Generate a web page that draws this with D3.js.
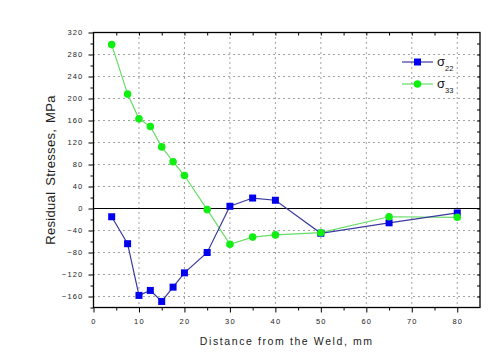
<!DOCTYPE html>
<html><head><meta charset="utf-8">
<script src="https://cdn.jsdelivr.net/npm/d3@7"></script>
<style>body{margin:0;background:#fff}svg{display:block}text{font-family:Arial,"Liberation Sans",sans-serif}</style>
</head><body><svg id="c" width="500" height="359"></svg>
<script>
const xValues = [4, 7.5, 10, 12.5, 15, 17.5, 20, 25, 30, 35, 40, 50, 65, 80];
const sigma22 = [-15, -64, -158, -149, -169, -143, -117, -80, 4, 19, 15, -45, -26, -8];
const sigma33 = [298, 208, 163, 149, 112, 85, 60, -2, -65, -52, -48, -44, -15, -16];
const xTicks = [0, 10, 20, 30, 40, 50, 60, 70, 80];
const yTicks = [-160, -120, -80, -40, 0, 40, 80, 120, 160, 200, 240, 280, 320];
const seriesNames = ["22", "33"];

const svg = d3.select("#c");
const L = 93.5, R = 480, T = 32.5, B = 307.5;
const x = d3.scaleLinear().domain([0, 85]).range([L, R]);
const y = d3.scaleLinear().domain([-180, 320]).range([B, T]);

// grid
const g = svg.append("g");
g.selectAll(".gx").data(xTicks.filter(d => d > 0)).enter().append("line")
  .attr("x1", d => x(d)).attr("x2", d => x(d)).attr("y1", T).attr("y2", B)
  .attr("stroke", "#444").attr("stroke-width", 1).attr("stroke-dasharray", "1,4");
g.selectAll(".gy").data(yTicks.filter(d => d !== 0 && d !== 320)).enter().append("line")
  .attr("x1", L).attr("x2", R).attr("y1", d => y(d)).attr("y2", d => y(d))
  .attr("stroke", "#444").attr("stroke-width", 1).attr("stroke-dasharray", "1,4");

// zero line
svg.append("line").attr("x1", L).attr("x2", R).attr("y1", y(0)).attr("y2", y(0))
  .attr("stroke", "#000").attr("stroke-width", 1.2);

// axes
const fmt = d3.format("d");
const ax = svg.append("g").attr("transform", `translate(0,${B})`)
  .call(d3.axisBottom(x).tickValues(xTicks).tickSize(5).tickPadding(6).tickFormat(fmt));
const axm = svg.append("g").attr("transform", `translate(0,${B})`)
  .call(d3.axisBottom(x).tickValues(d3.range(5, 85, 10)).tickSize(3).tickFormat(""));
const axt = svg.append("g").attr("transform", `translate(0,${T})`)
  .call(d3.axisBottom(x).tickValues(d3.range(5, 85, 5)).tickSize(3).tickFormat(""));
const ay = svg.append("g").attr("transform", `translate(${L},0)`)
  .call(d3.axisLeft(y).tickValues(yTicks).tickSize(5).tickPadding(5).tickFormat(fmt));
const aym = svg.append("g").attr("transform", `translate(${L},0)`)
  .call(d3.axisLeft(y).tickValues(d3.range(-180, 320, 40)).tickSize(3).tickFormat(""));
const ayr = svg.append("g").attr("transform", `translate(${R},0)`)
  .call(d3.axisLeft(y).tickValues(d3.range(-160, 320, 20)).tickSize(3).tickFormat(""));
[ax, axm, axt, ay, aym, ayr].forEach(a => {
  a.select(".domain").remove();
  a.selectAll("line").attr("stroke", "#000");
  a.selectAll("text").attr("font-size", 7.5).attr("letter-spacing", "1.2px").attr("fill", "#222");
});
// frame
svg.append("rect").attr("x", L).attr("y", T).attr("width", R - L).attr("height", B - T)
  .attr("fill", "none").attr("stroke", "#000").attr("stroke-width", 1.3);

// series
const line = vals => d3.line().x((d, i) => x(xValues[i])).y(d => y(d))(vals);
svg.append("path").attr("d", line(sigma33)).attr("fill", "none").attr("stroke", "#66dd66").attr("stroke-width", 1.2);
svg.append("path").attr("d", line(sigma22)).attr("fill", "none").attr("stroke", "#3a3aa0").attr("stroke-width", 1.2);
svg.selectAll(".sq").data(sigma22).enter().append("rect")
  .attr("x", (d, i) => x(xValues[i]) - 3.5).attr("y", d => y(d) - 3.5)
  .attr("width", 7).attr("height", 7).attr("fill", "#0000ee");
svg.selectAll(".ci").data(sigma33).enter().append("circle")
  .attr("cx", (d, i) => x(xValues[i])).attr("cy", d => y(d)).attr("r", 3.8).attr("fill", "#11ee11");

// legend
const leg = [{c: "#3a3aa0", m: "#0000ee", sq: true, y: 62}, {c: "#66dd66", m: "#11ee11", sq: false, y: 84}];
leg.forEach((l, i) => {
  svg.append("line").attr("x1", 402).attr("x2", 433).attr("y1", l.y).attr("y2", l.y).attr("stroke", l.c).attr("stroke-width", 1.2);
  if (l.sq) svg.append("rect").attr("x", 417.5 - 3.5).attr("y", l.y - 3.5).attr("width", 7).attr("height", 7).attr("fill", l.m);
  else svg.append("circle").attr("cx", 417.5).attr("cy", l.y).attr("r", 3.8).attr("fill", l.m);
  const t = svg.append("text").attr("x", 437).attr("y", l.y + 4).attr("font-size", 13).attr("fill", "#111");
  t.append("tspan").text("σ");
  t.append("tspan").attr("dy", 5).attr("font-size", 7.5).text(seriesNames[i]);
});

// titles
svg.append("text").attr("x", (L + R) / 2).attr("y", 345).attr("text-anchor", "middle")
  .attr("font-size", 10.5).attr("letter-spacing", "1.6px").attr("fill", "#222").text("Distance from the Weld, mm");
svg.append("text").attr("transform", `translate(55,${(T + B) / 2}) rotate(-90)`).attr("text-anchor", "middle")
  .attr("font-size", 13).attr("letter-spacing", "0.3px").attr("word-spacing", "2px").attr("fill", "#222").text("Residual Stresses, MPa");
</script></body></html>
